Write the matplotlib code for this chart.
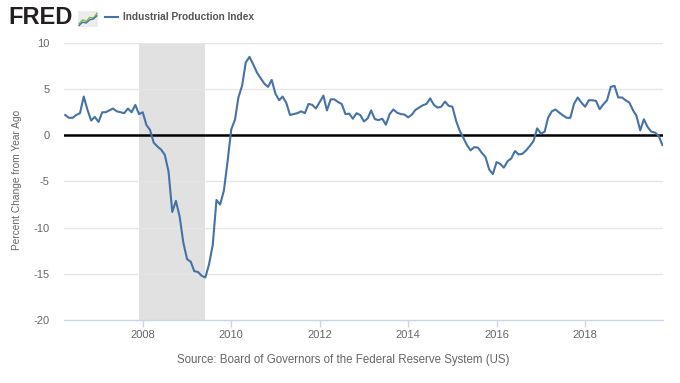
import matplotlib
matplotlib.use('Agg')
import matplotlib.pyplot as plt
import matplotlib.dates as mdates
import pandas as pd

# monthly % change from year ago, Apr 2006 - Oct 2019
start_month = '2006-04-01'
values = [2.2, 1.9, 1.9, 2.2, 2.4, 4.2, 2.8, 1.6, 2.0,
          1.45, 2.5, 2.5, 2.7, 2.9, 2.6, 2.5, 2.4, 2.9, 2.5, 3.3, 2.3,
          2.5, 1.1, 0.6, -0.8, -1.2, -1.55, -2.1, -3.9, -8.3, -7.1, -8.8, -11.6,
          -13.4, -13.7, -14.7, -14.8, -15.2, -15.4, -14.0, -11.9, -7.0, -7.5, -6.0, -2.9,
          0.65, 1.7, 4.1, 5.4, 7.9, 8.5, 7.7, 6.8, 6.2, 5.6, 5.25, 6.0,
          4.5, 3.8, 4.2, 3.5, 2.2, 2.3, 2.4, 2.6, 2.4, 3.4, 3.3, 2.9,
          3.6, 4.3, 2.7, 3.9, 3.9, 3.6, 3.4, 2.3, 2.35, 1.8, 2.4, 2.2,
          1.5, 1.85, 2.7, 1.75, 1.65, 1.8, 1.15, 2.3, 2.8, 2.45, 2.3, 2.25,
          1.95, 2.25, 2.75, 3.0, 3.25, 3.4, 4.0, 3.3, 3.0, 3.1, 3.66, 3.2,
          3.1, 1.56, 0.54, -0.25, -1.05, -1.63, -1.27, -1.34, -1.9, -2.35, -3.7, -4.2,
          -2.9, -3.1, -3.5, -2.8, -2.5, -1.7, -2.07, -2.0, -1.63, -1.16, -0.62, 0.76,
          0.18, 0.4, 1.9, 2.6, 2.8, 2.46, 2.17, 1.9, 1.9, 3.4, 4.1, 3.55,
          3.1, 3.8, 3.8, 3.73, 2.83, 3.37, 3.8, 5.25, 5.36, 4.1, 4.1, 3.8,
          3.55, 2.7, 2.1, 0.54, 1.74, 0.9, 0.4, 0.3, -0.07, -1.05]
dates = pd.date_range(start_month, periods=len(values), freq='MS')

recession_start = '2007-12-01'
recession_end = '2009-06-01'
y_ticks = [-20, -15, -10, -5, 0, 5, 10]
x_years = [2008, 2010, 2012, 2014, 2016, 2018]

series_name = 'Industrial Production Index'
y_title = 'Percent Change from Year Ago'
source = 'Source: Board of Governors of the Federal Reserve System (US)'

# little FRED logo chart
icon_x = [0, 1, 2, 3, 4, 5]
icon_green = [0.2, 0.45, 0.35, 0.6, 0.55, 0.85]
icon_blue = [0.1, 0.3, 0.25, 0.45, 0.5, 0.7]

plt.rcParams['font.family'] = ['Liberation Sans', 'DejaVu Sans']

fig = plt.figure(figsize=(6.8, 3.83), dpi=100)
ax = fig.add_axes([64/680, 1-320/383, (663-64)/680, (320-43)/383])

ax.axvspan(pd.Timestamp(recession_start), pd.Timestamp(recession_end), color='#e1e1e1', lw=0, zorder=0)
for t in y_ticks[1:]:
    ax.axhline(t, color='#e6e6e6', lw=1, zorder=1)
ax.axhline(0, color='black', lw=1.8, zorder=2)
ax.plot(dates, values, color='#4572a7', lw=1.5, zorder=3)

ax.set_ylim(-20, 10)
ax.set_xlim(dates[0] - pd.Timedelta(days=10), dates[-1] + pd.Timedelta(days=5))
ax.set_yticks(y_ticks)
ax.set_yticklabels([str(t) for t in y_ticks])
ax.set_xticks([pd.Timestamp(str(y) + '-01-01') for y in x_years])
ax.xaxis.set_major_formatter(mdates.DateFormatter('%Y'))
ax.tick_params(axis='y', length=0, pad=10.5, labelsize=8, labelcolor='#666666')
ax.tick_params(axis='x', length=5, width=1, color='#ccd6eb', pad=2.5, labelsize=8, labelcolor='#666666')
for s in ['top', 'right', 'left']:
    ax.spines[s].set_visible(False)
ax.spines['bottom'].set_color('#ccd6eb')
ax.spines['bottom'].set_linewidth(1)

fig.text(17/680, 1-180/383, y_title, rotation=90, ha='center', va='center', fontsize=7.3, color='#666666')
fig.text(343/680, 1-360/383, source, ha='center', va='center', fontsize=8.3, color='#666666')

# header: FRED logo and legend
fig.text(8/680, 1-18/383, 'FRED', ha='left', va='center', fontsize=17, fontweight='heavy', color='#231f20')
iax = fig.add_axes([78/680, 1-27/383, 20/680, 16/383])
iax.set_facecolor('#ececec')
iax.plot(icon_x, icon_green, color='#7fb845', lw=1)
iax.plot(icon_x, icon_blue, color='#4572a7', lw=1)
iax.set_xlim(-0.3, 5.3)
iax.set_ylim(0, 1)
iax.set_xticks([])
iax.set_yticks([])
for s in iax.spines.values():
    s.set_visible(False)
fig.add_artist(plt.Line2D([105/680, 118/680], [1-17/383, 1-17/383], color='#4572a7', lw=1.5))
fig.text(123/680, 1-17/383, series_name, ha='left', va='center', fontsize=7.3, fontweight='bold', color='#555555')

fig.savefig('out.png', dpi=100, facecolor='white')
